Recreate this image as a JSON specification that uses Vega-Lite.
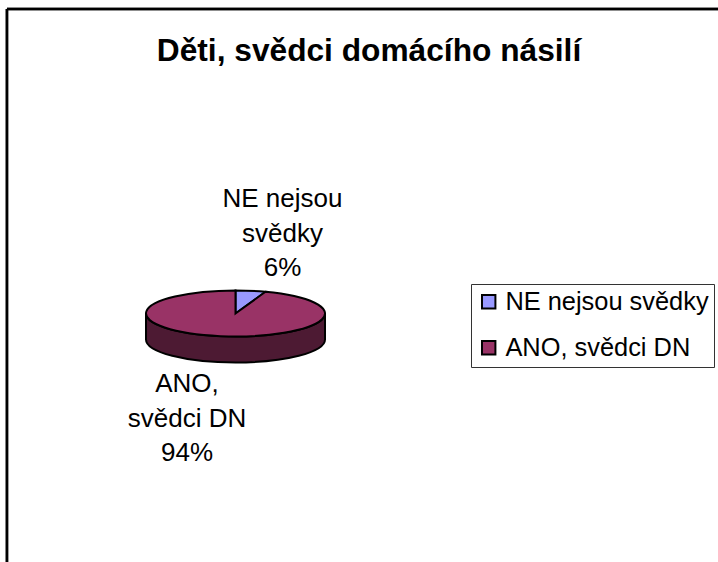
{
 "$schema":"https://vega.github.io/schema/vega-lite/v6.json",
 "width":718,"height":562,"padding":0,"autosize":"none",
 "background":"white",
 "config":{"view":{"stroke":null},"font":"Liberation Sans"},
 "title":{"text":"Děti, svědci domácího násilí","font":"Liberation Sans","fontSize":31.7,"fontWeight":"bold","color":"black","anchor":"middle","dx":10,"offset":-93,"baseline":"alphabetic"},
 "data":{"values":[
  {"category":"NE nejsou svědky","value":6,"label":"NE nejsou\nsvědky\n6%"},
  {"category":"ANO, svědci DN","value":94,"label":"ANO,\nsvědci DN\n94%"}
 ]},
 "layer":[
  {"mark":{"type":"rule","color":"black","strokeWidth":2.5},
   "encoding":{"x":{"datum":0.97,"type":"quantitative","scale":{"domain":[0,100]},"axis":null},
    "y":{"datum":1.6,"type":"quantitative","scale":{"domain":[100,0]},"axis":null},"y2":{"datum":100}}},
  {"mark":{"type":"rule","color":"black","strokeWidth":2.5},
   "encoding":{"y":{"datum":1.6,"type":"quantitative","scale":{"domain":[100,0]},"axis":null},
    "x":{"datum":0.97,"type":"quantitative","scale":{"domain":[0,100]},"axis":null},"x2":{"datum":100}}},
  {"transform":[{"filter":"datum.value > 50"}],
   "mark":{"type":"point","filled":true,"opacity":1,"size":32041,"fill":"#4D1A33","stroke":"black","strokeWidth":2,
     "shape":"M-1 0A1 .257 0 0 0 1 0L1 .29A1 .257 0 0 1 -1 .29Z"},
   "encoding":{"x":{"datum":32.8,"type":"quantitative","scale":{"domain":[0,100]},"axis":null},
    "y":{"datum":55.78,"type":"quantitative","scale":{"domain":[100,0]},"axis":null}}},
  {"mark":{"type":"point","filled":true,"opacity":1,"size":32041,"stroke":"black","strokeWidth":2},
   "encoding":{"x":{"datum":32.8,"type":"quantitative","scale":{"domain":[0,100]},"axis":null},
    "y":{"datum":55.78,"type":"quantitative","scale":{"domain":[100,0]},"axis":null},
    "fill":{"field":"category","type":"nominal","sort":null,
      "scale":{"domain":["NE nejsou svědky","ANO, svědci DN"],"range":["#9999FF","#993366"]},
      "legend":{"title":null,"orient":"none","legendX":471,"legendY":284,"padding":5,"fillColor":"white","strokeColor":"#333333",
        "symbolType":"square","symbolSize":180,"symbolStrokeColor":"black","symbolStrokeWidth":2,"symbolOpacity":1,
        "labelFont":"Liberation Sans","labelFontSize":25.4,"labelColor":"black","labelLimit":300,"labelOffset":4,"rowPadding":19,"symbolOffset":0}},
    "shape":{"field":"value","type":"nominal","sort":null,
      "scale":{"domain":[6,94],"range":["M0 0L0 -.257A1 .257 0 0 1 .335 -.24215Z","M0 0L.335 -.24215A1 .257 0 1 1 0 -.257Z"]},
      "legend":null}}},
  {"mark":{"type":"text","font":"Liberation Sans","fontSize":26,"color":"black","align":"center","baseline":"alphabetic","lineBreak":"\n","lineHeight":34.5},
   "encoding":{"text":{"field":"label"},
    "x":{"field":"value","type":"quantitative","scale":{"domain":[6,94],"range":[282.5,187]},"axis":null},
    "y":{"field":"value","type":"quantitative","scale":{"domain":[6,94],"range":[207,392]},"axis":null}}}
 ],
 "resolve":{"scale":{"x":"independent","y":"independent"}}
}
